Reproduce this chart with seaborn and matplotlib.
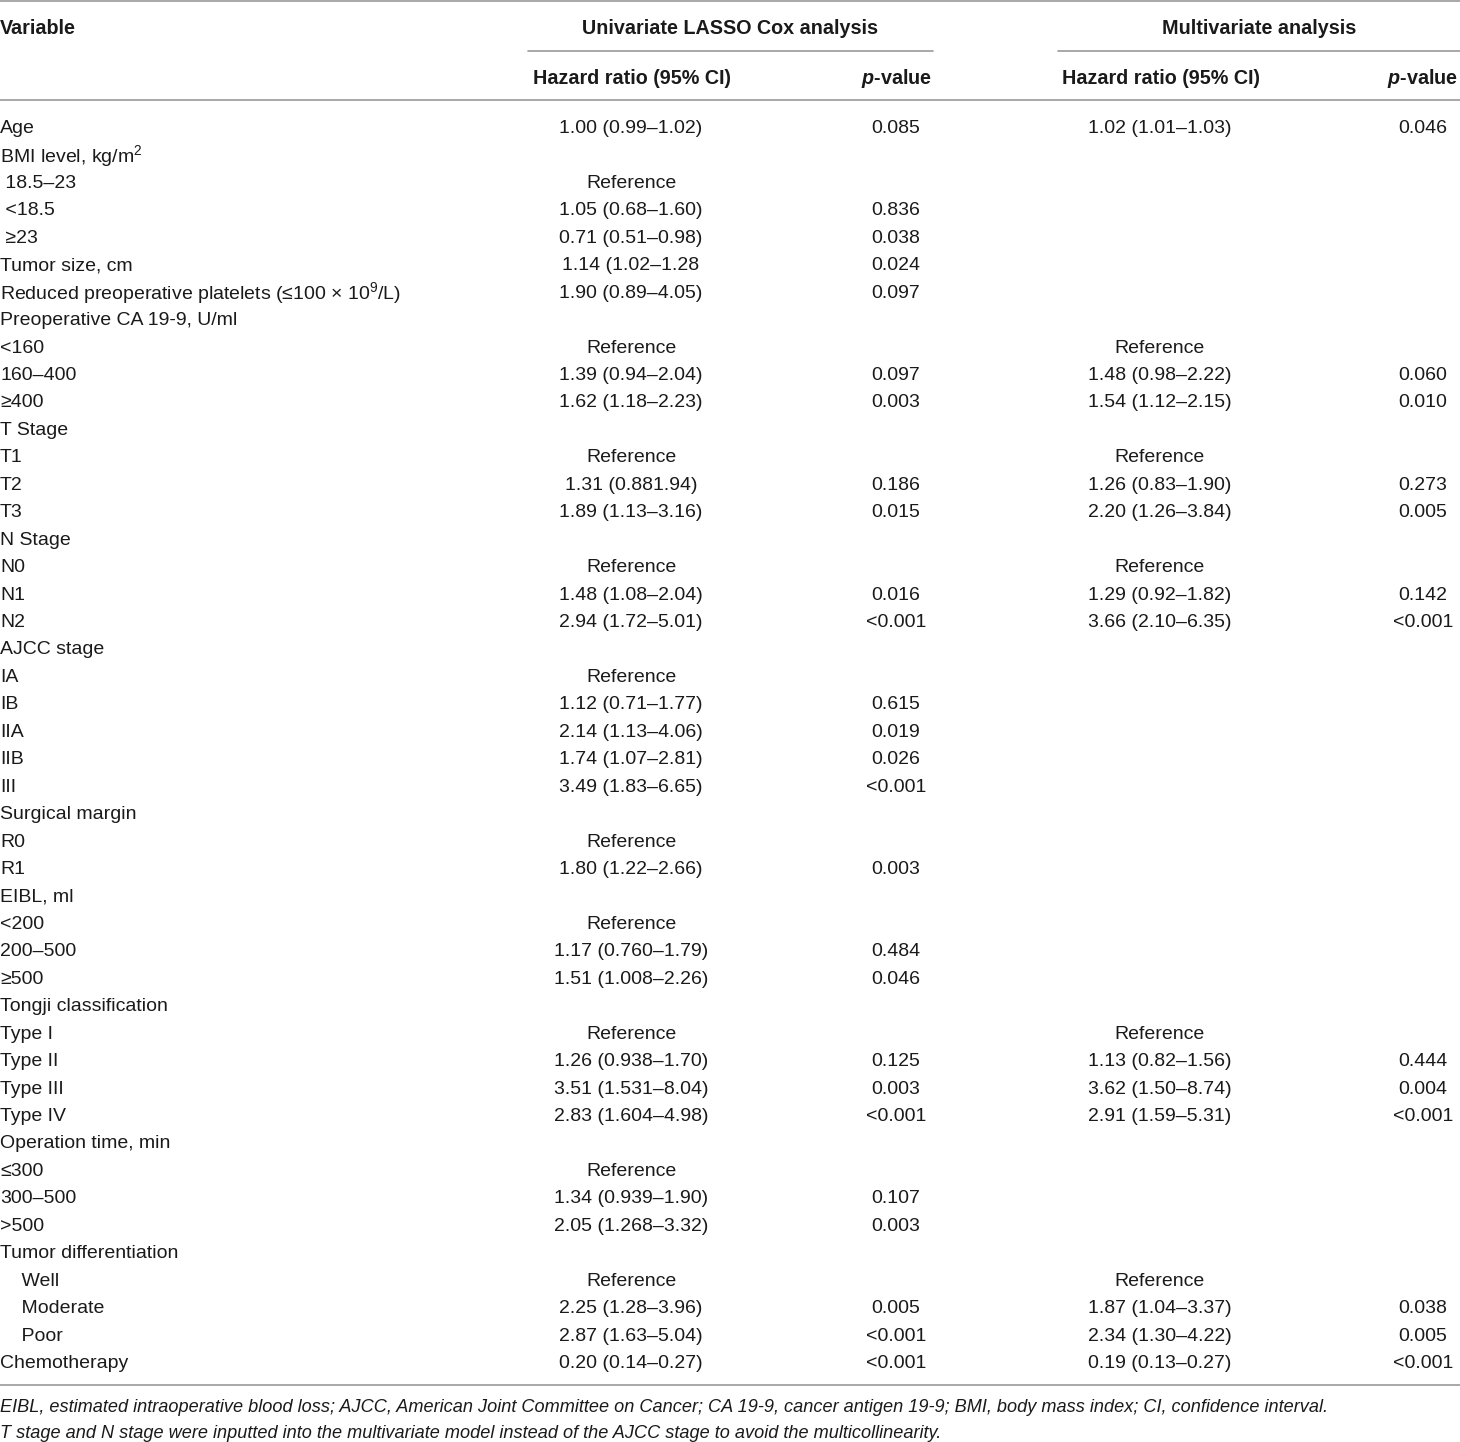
import matplotlib
matplotlib.use("Agg")
import matplotlib.pyplot as plt
import seaborn as sns

sns.set_theme(style="white")
plt.rcParams['font.family'] = ['Liberation Sans', 'DejaVu Sans']
plt.rcParams['mathtext.fontset'] = 'custom'
plt.rcParams['mathtext.rm'] = 'Liberation Sans'
plt.rcParams['mathtext.it'] = 'Liberation Sans:italic:bold'
plt.rcParams['mathtext.bf'] = 'Liberation Sans:bold'

# ---------------- data ----------------
variables = [
    "Age", r"BMI level, kg/m$^{2}$", " 18.5–23", " <18.5", " ≥23", "Tumor size, cm",
    r"Reduced preoperative platelets (≤100 × 10$^{9}$/L)", "Preoperative CA 19-9, U/ml",
    "<160", "160–400", "≥400", "T Stage", "T1", "T2", "T3", "N Stage", "N0", "N1", "N2",
    "AJCC stage", "IA", "IB", "IIA", "IIB", "III", "Surgical margin", "R0", "R1",
    "EIBL, ml", "<200", "200–500", "≥500", "Tongji classification", "Type I", "Type II",
    "Type III", "Type IV", "Operation time, min", "≤300", "300–500", ">500",
    "Tumor differentiation", "    Well", "    Moderate", "    Poor", "Chemotherapy",
]
uni_hr = [
    "1.00 (0.99–1.02)", "", "Reference", "1.05 (0.68–1.60)", "0.71 (0.51–0.98)",
    "1.14 (1.02–1.28", "1.90 (0.89–4.05)", "", "Reference", "1.39 (0.94–2.04)",
    "1.62 (1.18–2.23)", "", "Reference", "1.31 (0.881.94)", "1.89 (1.13–3.16)", "",
    "Reference", "1.48 (1.08–2.04)", "2.94 (1.72–5.01)", "", "Reference",
    "1.12 (0.71–1.77)", "2.14 (1.13–4.06)", "1.74 (1.07–2.81)", "3.49 (1.83–6.65)", "",
    "Reference", "1.80 (1.22–2.66)", "", "Reference", "1.17 (0.760–1.79)",
    "1.51 (1.008–2.26)", "", "Reference", "1.26 (0.938–1.70)", "3.51 (1.531–8.04)",
    "2.83 (1.604–4.98)", "", "Reference", "1.34 (0.939–1.90)", "2.05 (1.268–3.32)", "",
    "Reference", "2.25 (1.28–3.96)", "2.87 (1.63–5.04)", "0.20 (0.14–0.27)",
]
uni_p = [
    "0.085", "", "", "0.836", "0.038", "0.024", "0.097", "", "", "0.097", "0.003", "",
    "", "0.186", "0.015", "", "", "0.016", "<0.001", "", "", "0.615", "0.019", "0.026",
    "<0.001", "", "", "0.003", "", "", "0.484", "0.046", "", "", "0.125", "0.003",
    "<0.001", "", "", "0.107", "0.003", "", "", "0.005", "<0.001", "<0.001",
]
multi_hr = [
    "1.02 (1.01–1.03)", "", "", "", "", "", "", "", "Reference", "1.48 (0.98–2.22)",
    "1.54 (1.12–2.15)", "", "Reference", "1.26 (0.83–1.90)", "2.20 (1.26–3.84)", "",
    "Reference", "1.29 (0.92–1.82)", "3.66 (2.10–6.35)", "", "", "", "", "", "", "",
    "", "", "", "", "", "", "", "Reference", "1.13 (0.82–1.56)", "3.62 (1.50–8.74)",
    "2.91 (1.59–5.31)", "", "", "", "", "", "Reference", "1.87 (1.04–3.37)",
    "2.34 (1.30–4.22)", "0.19 (0.13–0.27)",
]
multi_p = [
    "0.046", "", "", "", "", "", "", "", "", "0.060", "0.010", "", "", "0.273", "0.005",
    "", "", "0.142", "<0.001", "", "", "", "", "", "", "", "", "", "", "", "", "", "",
    "", "0.444", "0.004", "<0.001", "", "", "", "", "", "", "0.038", "0.005", "<0.001",
]
group_headers = ["Univariate LASSO Cox analysis", "Multivariate analysis"]
col_headers = ["Variable", "Hazard ratio (95% CI)", r"$\it{p}$-value",
               "Hazard ratio (95% CI)", r"$\it{p}$-value"]
footnotes = [
    "EIBL, estimated intraoperative blood loss; AJCC, American Joint Committee on Cancer; "
    "CA 19-9, cancer antigen 19-9; BMI, body mass index; CI, confidence interval.",
    "T stage and N stage were inputted into the multivariate model instead of the AJCC "
    "stage to avoid the multicollinearity.",
]

# ---------------- layout ----------------
W, H = 1460, 1442
fig = plt.figure(figsize=(W / 100, H / 100), dpi=100)
ax = fig.add_axes([0, 0, 1, 1])
ax.set_xlim(0, W)
ax.set_ylim(H, 0)
ax.axis("off")

txt = "#1a1a1a"
line_c = "#9a9a9a"
fs = 14
off = 2.5

y0, dy = 126 + off, (1361 - 126) / 45
col_x = [0, 631, 896, 1160, 1423]

for i, (v, h1, p1, h2, p2) in enumerate(zip(variables, uni_hr, uni_p, multi_hr, multi_p)):
    y = y0 + i * dy
    ax.text(col_x[0], y, v, ha="left", va="center", fontsize=fs, color=txt)
    for x, s in zip(col_x[1:], (h1, p1, h2, p2)):
        if s:
            ax.text(x, y, s, ha="center", va="center", fontsize=fs, color=txt)

# headers
hfs = 14.2
ax.text(0, 26 + off, col_headers[0], ha="left", va="center", fontsize=hfs,
        fontweight="bold", color=txt)
ax.text(730, 26 + off, group_headers[0], ha="center", va="center", fontsize=hfs,
        fontweight="bold", color=txt)
ax.text(1259, 26 + off, group_headers[1], ha="center", va="center", fontsize=hfs,
        fontweight="bold", color=txt)
ax.text(632, 76 + off, col_headers[1], ha="center", va="center", fontsize=hfs,
        fontweight="bold", color=txt)
ax.text(932, 76 + off, col_headers[2], ha="right", va="center", fontsize=hfs,
        fontweight="bold", color=txt)
ax.text(1161, 76 + off, col_headers[3], ha="center", va="center", fontsize=hfs,
        fontweight="bold", color=txt)
ax.text(1458, 76 + off, col_headers[4], ha="right", va="center", fontsize=hfs,
        fontweight="bold", color=txt)

# rules
ax.plot([0, W], [1, 1], color=line_c, lw=1.2)
ax.plot([528, 933], [51, 51], color=line_c, lw=1.2)
ax.plot([1058, W], [51, 51], color=line_c, lw=1.2)
ax.plot([0, W], [100, 100], color=line_c, lw=1.2)
ax.plot([0, W], [1385, 1385], color=line_c, lw=1.2)

# footnotes
for k, f in enumerate(footnotes):
    ax.text(0, 1405 + off + k * 26, f, ha="left", va="center", fontsize=13.1,
            style="italic", color=txt)

fig.savefig("out.png", dpi=100)
